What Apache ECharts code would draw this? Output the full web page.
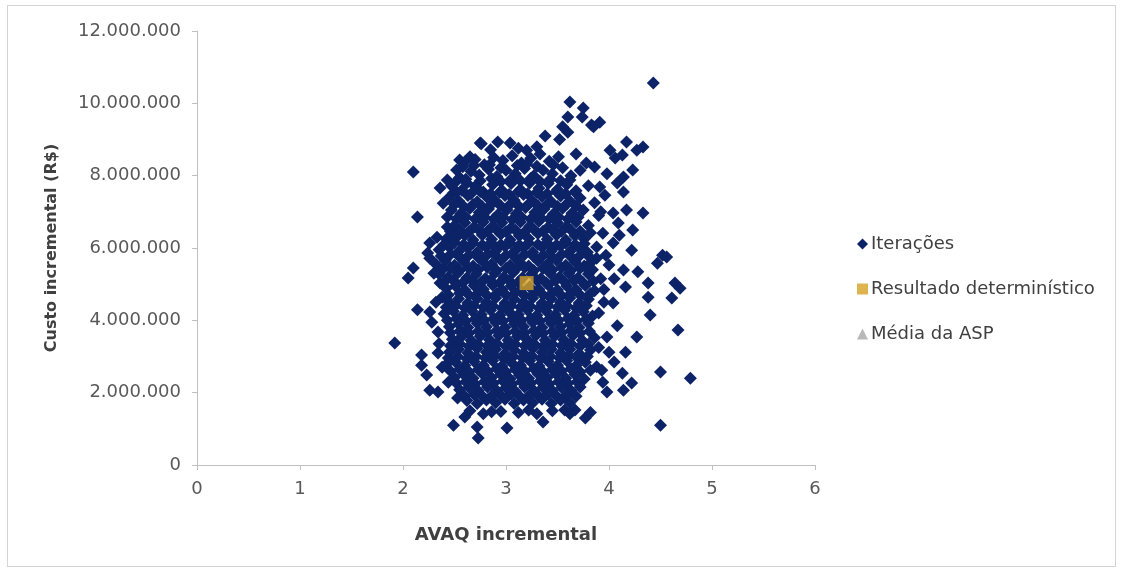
<!DOCTYPE html>
<html>
<head>
<meta charset="utf-8">
<script src="https://cdn.jsdelivr.net/npm/echarts@6/dist/echarts.min.js"></script>
<style>
  html, body { margin: 0; padding: 0; background: #fff; }
  #chart { width: 1122px; height: 570px; }
  #frame { position: absolute; left: 7px; top: 5px; width: 1107px; height: 560px; border: 1px solid #d4d4d4; pointer-events: none; }
</style>
</head>
<body>
<div id="chart"></div>
<div id="frame"></div>
<script>
// Eixos
const xTicks = [0, 1, 2, 3, 4, 5, 6];          // AVAQ incremental
const yTicks = [0, 2, 4, 6, 8, 10, 12];        // custo, em milhões de R$

// Resultado determinístico e média da análise de sensibilidade probabilística [AVAQ, custo (milhões R$)]
const resultadoDeterministico = [[3.2, 5.03]];
const mediaASP = [[3.18, 5.0]];

// Iterações da simulação [AVAQ, custo (milhões R$)] — pontos da periferia da nuvem
const iteracoesExtremos = [
  [4.43,10.56],[3.62,10.04],[3.75,9.87],[3.6,9.62],[3.74,9.62],[3.83,9.4],[3.91,9.48],[3.85,9.35],[3.6,9.2],[3.55,9.35],
  [2.76,8.88],[2.92,8.93],[3.04,8.9],[3.12,8.76],[3.3,8.8],[3.38,9.1],[3.52,9.0],[3.2,8.7],[2.85,8.72],
  [4.17,8.93],[4.33,8.79],[4.27,8.7],[4.01,8.7],[4.06,8.49],[4.13,8.57],[3.86,8.24],[4.23,8.16],[4.14,7.96],[3.91,7.69],
  [4.08,7.8],[4.14,7.55],[3.96,7.46],[4.33,6.97],[4.17,7.05],[4.04,6.97],[4.09,6.69],[4.23,6.5],[3.94,6.41],[4.04,6.14],
  [4.22,5.94],[4.52,5.8],[3.88,6.03],
  [2.1,8.1],[2.14,6.86],[2.75,8.9],[2.55,8.43],[2.65,8.52],[2.52,8.16],[2.43,7.88],[2.36,7.66],[2.49,7.52],[2.62,7.8],
  [2.39,7.24],[2.26,6.14],[2.24,5.86],[2.43,6.58],[2.55,6.86],[2.43,6.86],[2.33,6.3],[2.52,6.3],
  [2.1,5.45],[2.05,5.17],[2.26,5.72],[2.36,5.03],[2.38,4.64],[2.14,4.29],[2.26,4.23],[2.28,3.95],[1.92,3.37],[2.34,3.68],
  [2.18,3.04],[2.34,3.1],[2.18,2.76],[2.23,2.49],[2.26,2.07],[2.34,2.02],[2.44,2.29],[2.53,1.85],[2.49,1.1],[2.6,1.33],
  [2.72,1.05],[2.73,0.75],[3.01,1.02],[3.36,1.19],[2.86,1.47],[3.67,1.52],[3.77,1.3],[3.57,1.52],
  [3.88,5.72],[4.0,5.53],[4.14,5.39],[4.28,5.34],[4.47,5.58],[4.56,5.75],[4.64,5.03],[4.69,4.89],[4.61,4.62],[4.38,5.03],
  [4.16,4.92],[4.38,4.64],[4.04,4.48],[4.4,4.15],[4.67,3.73],[4.27,3.54],[3.98,3.54],[4.16,3.12],[4.0,3.12],[4.5,2.57],
  [4.79,2.4],[4.13,2.54],[4.22,2.27],[4.14,2.07],[3.94,2.29],[3.98,2.02],[4.5,1.1],
  [3.9,4.2],[3.95,4.85],[4.05,5.15],[3.97,5.8],[4.1,6.35],[3.9,3.25],[4.08,3.85],[3.93,2.62],[4.05,2.85],[3.92,7.0],
  [2.3,5.3],[2.32,4.5],[2.35,3.35],[2.38,2.7]
];
// Iterações — núcleo denso da nuvem, faixa a faixa de custo
const iteracoesNucleo = [
  [2.6,8.38],[2.7,8.45],[2.79,8.3],[2.88,8.5],[2.97,8.42],[3.06,8.55],[3.15,8.35],[3.24,8.48],[3.33,8.6],[3.42,8.4],[3.51,8.52],[3.68,8.6],[3.78,8.35],
  [2.58,8.25],[2.69,8.28],[2.84,8.3],[2.95,8.22],[3.11,8.28],[3.2,8.32],[3.3,8.26],[3.46,8.3],
  [2.55,7.95],[2.66,8.12],[2.74,8.02],[2.83,8.18],[2.91,7.98],[3.0,8.15],[3.09,8.05],[3.18,8.2],[3.27,8.0],[3.36,8.15],[3.45,8.05],[3.55,8.22],[3.63,8.0],[3.72,8.15],[3.98,8.05],
  [2.52,7.85],[2.61,7.9],[2.75,7.86],[2.86,7.92],[2.95,7.84],[3.05,7.9],[3.14,7.86],[3.24,7.92],[3.33,7.84],[3.43,7.9],[3.53,7.86],[3.62,7.88],
  [2.47,7.72],[2.57,7.6],[2.7,7.7],[2.78,7.55],[2.87,7.75],[2.96,7.6],[3.05,7.78],[3.14,7.62],[3.23,7.8],[3.32,7.65],[3.41,7.78],[3.5,7.62],[3.59,7.75],[3.68,7.58],[3.8,7.72],
  [2.52,7.55],[2.66,7.5],[2.75,7.56],[2.85,7.5],[2.94,7.54],[3.03,7.48],[3.12,7.56],[3.21,7.5],[3.3,7.54],[3.4,7.5],[3.49,7.56],[3.58,7.5],[3.67,7.54],
  [2.45,7.4],[2.54,7.3],[2.63,7.45],[2.72,7.28],[2.81,7.42],[2.9,7.3],[2.99,7.45],[3.08,7.32],[3.17,7.48],[3.26,7.3],[3.35,7.42],[3.44,7.28],[3.53,7.44],[3.62,7.3],[3.72,7.38],[3.86,7.25],
  [2.5,7.2],[2.59,7.15],[2.68,7.2],[2.77,7.14],[2.86,7.22],[2.95,7.16],[3.04,7.2],[3.13,7.14],[3.22,7.22],[3.31,7.16],[3.4,7.2],[3.5,7.15],[3.59,7.22],[3.68,7.16],
  [2.47,7.05],[2.56,6.95],[2.65,7.1],[2.74,6.98],[2.83,7.08],[2.92,6.92],[3.01,7.06],[3.1,6.95],[3.19,7.12],[3.28,6.98],[3.37,7.08],[3.46,6.94],[3.55,7.1],[3.64,6.96],[3.75,7.05],[3.9,6.9],
  [2.52,6.8],[2.61,6.86],[2.7,6.8],[2.79,6.86],[2.88,6.8],[2.97,6.86],[3.06,6.78],[3.15,6.86],[3.24,6.8],[3.33,6.86],[3.42,6.8],[3.51,6.86],[3.6,6.8],[3.7,6.85],
  [2.5,6.62],[2.6,6.7],[2.69,6.58],[2.78,6.72],[2.87,6.6],[2.96,6.7],[3.05,6.56],[3.14,6.72],[3.23,6.6],[3.32,6.74],[3.41,6.58],[3.5,6.7],[3.59,6.6],[3.68,6.72],[3.8,6.62],
  [2.46,6.46],[2.55,6.5],[2.64,6.45],[2.73,6.52],[2.82,6.46],[2.91,6.5],[3.0,6.45],[3.09,6.5],[3.18,6.44],[3.27,6.52],[3.36,6.46],[3.45,6.5],[3.54,6.46],[3.63,6.5],[3.72,6.46],
  [2.42,6.25],[2.6,6.35],[2.68,6.22],[2.77,6.36],[2.86,6.24],[2.95,6.38],[3.04,6.22],[3.13,6.34],[3.22,6.26],[3.31,6.4],[3.4,6.24],[3.49,6.36],[3.58,6.22],[3.67,6.34],[3.76,6.25],[3.82,6.42],
  [2.4,6.1],[2.5,6.15],[2.59,6.1],[2.68,6.14],[2.77,6.08],[2.86,6.14],[2.95,6.1],[3.04,6.14],[3.13,6.08],[3.22,6.14],[3.31,6.1],[3.4,6.14],[3.49,6.08],[3.58,6.14],[3.67,6.1],[3.76,6.12],
  [2.35,5.95],[2.45,6.02],[2.54,5.9],[2.63,6.0],[2.72,5.88],[2.81,6.02],[2.9,5.92],[2.99,6.04],[3.08,5.9],[3.17,6.0],[3.26,5.88],[3.35,6.02],[3.44,5.92],[3.53,6.05],[3.62,5.9],[3.71,6.0],[3.79,5.88],
  [2.37,5.78],[2.46,5.82],[2.55,5.75],[2.64,5.8],[2.73,5.74],[2.82,5.82],[2.91,5.76],[3.0,5.8],[3.09,5.74],[3.18,5.82],[3.27,5.76],[3.36,5.8],[3.45,5.74],[3.54,5.82],[3.63,5.76],[3.72,5.8],[3.81,5.75],
  [2.32,5.55],[2.41,5.65],[2.5,5.52],[2.59,5.62],[2.68,5.5],[2.77,5.64],[2.86,5.55],[2.95,5.66],[3.04,5.52],[3.13,5.62],[3.22,5.5],[3.31,5.65],[3.4,5.55],[3.49,5.66],[3.58,5.52],[3.67,5.62],[3.76,5.5],[3.83,5.62],
  [2.38,5.4],[2.46,5.45],[2.55,5.38],[2.64,5.44],[2.73,5.4],[2.82,5.46],[2.91,5.38],[3.0,5.44],[3.09,5.4],[3.18,5.46],[3.27,5.38],[3.36,5.44],[3.45,5.4],[3.54,5.46],[3.63,5.38],[3.72,5.44],[3.84,5.4],
  [2.35,5.28],[2.44,5.2],[2.53,5.3],[2.62,5.18],[2.71,5.28],[2.8,5.16],[2.89,5.3],[2.98,5.2],[3.07,5.32],[3.16,5.18],[3.25,5.28],[3.34,5.16],[3.43,5.3],[3.52,5.2],[3.61,5.3],[3.7,5.18],[3.8,5.28],[3.92,5.15],
  [2.4,5.06],[2.49,5.1],[2.58,5.04],[2.67,5.1],[2.76,5.06],[2.85,5.1],[2.94,5.04],[3.03,5.1],[3.12,5.06],[3.3,5.1],[3.39,5.04],[3.48,5.1],[3.57,5.06],[3.66,5.1],[3.75,5.04],[3.85,5.08],
  [2.42,4.88],[2.51,4.95],[2.6,4.84],[2.69,4.96],[2.78,4.86],[2.87,4.98],[2.96,4.85],[3.05,4.95],[3.14,4.84],[3.23,4.92],[3.32,4.86],[3.41,4.98],[3.5,4.84],[3.59,4.95],[3.68,4.85],[3.77,4.96],[3.86,4.82],
  [2.44,4.7],[2.55,4.75],[2.64,4.7],[2.73,4.76],[2.82,4.68],[2.91,4.74],[3.0,4.7],[3.09,4.76],[3.18,4.68],[3.27,4.74],[3.36,4.7],[3.45,4.76],[3.54,4.68],[3.63,4.74],[3.72,4.7],[3.82,4.74],
  [2.45,4.5],[2.54,4.6],[2.63,4.48],[2.72,4.6],[2.81,4.5],[2.9,4.62],[2.99,4.48],[3.08,4.58],[3.17,4.5],[3.26,4.62],[3.35,4.48],[3.44,4.6],[3.53,4.5],[3.62,4.62],[3.71,4.48],[3.8,4.58],[3.95,4.5],
  [2.42,4.36],[2.51,4.4],[2.6,4.34],[2.69,4.4],[2.78,4.36],[2.87,4.4],[2.96,4.34],[3.05,4.4],[3.14,4.36],[3.23,4.4],[3.32,4.34],[3.41,4.4],[3.5,4.36],[3.59,4.4],[3.68,4.34],[3.78,4.4],
  [2.4,4.18],[2.49,4.25],[2.58,4.14],[2.67,4.26],[2.76,4.16],[2.85,4.28],[2.94,4.14],[3.03,4.24],[3.12,4.16],[3.21,4.28],[3.3,4.14],[3.39,4.26],[3.48,4.16],[3.57,4.28],[3.66,4.14],[3.75,4.24],[3.84,4.12],
  [2.43,4.0],[2.52,4.05],[2.61,3.98],[2.7,4.04],[2.79,4.0],[2.88,4.05],[2.97,3.98],[3.06,4.04],[3.15,4.0],[3.24,4.05],[3.33,3.98],[3.42,4.04],[3.51,4.0],[3.6,4.05],[3.69,3.98],[3.78,4.04],
  [2.45,3.82],[2.54,3.9],[2.63,3.8],[2.72,3.92],[2.81,3.82],[2.9,3.94],[2.99,3.8],[3.08,3.9],[3.17,3.82],[3.26,3.94],[3.35,3.8],[3.44,3.92],[3.53,3.82],[3.62,3.9],[3.71,3.8],[3.8,3.92],
  [2.46,3.66],[2.55,3.7],[2.64,3.64],[2.73,3.7],[2.82,3.66],[2.91,3.72],[3.0,3.64],[3.09,3.7],[3.18,3.66],[3.27,3.72],[3.36,3.64],[3.45,3.7],[3.54,3.66],[3.63,3.72],[3.72,3.64],[3.81,3.7],
  [2.48,3.48],[2.57,3.55],[2.66,3.45],[2.75,3.56],[2.84,3.46],[2.93,3.58],[3.02,3.45],[3.11,3.55],[3.2,3.48],[3.29,3.58],[3.38,3.45],[3.47,3.56],[3.56,3.46],[3.65,3.58],[3.74,3.45],[3.86,3.52],
  [2.46,3.3],[2.55,3.35],[2.64,3.28],[2.73,3.34],[2.82,3.3],[2.91,3.36],[3.0,3.28],[3.09,3.34],[3.18,3.3],[3.27,3.36],[3.36,3.28],[3.45,3.34],[3.54,3.3],[3.63,3.36],[3.72,3.28],[3.8,3.34],
  [2.45,3.12],[2.54,3.2],[2.63,3.1],[2.72,3.22],[2.81,3.12],[2.9,3.2],[2.99,3.08],[3.08,3.18],[3.17,3.1],[3.26,3.22],[3.35,3.12],[3.44,3.2],[3.53,3.1],[3.62,3.2],[3.71,3.08],[3.82,3.18],
  [2.44,2.96],[2.53,3.0],[2.62,2.94],[2.71,3.0],[2.8,2.96],[2.89,3.02],[2.98,2.94],[3.07,3.0],[3.16,2.96],[3.25,3.02],[3.34,2.94],[3.43,3.0],[3.52,2.96],[3.61,3.02],[3.7,2.94],[3.79,3.0],
  [2.42,2.78],[2.51,2.85],[2.6,2.75],[2.69,2.86],[2.78,2.76],[2.87,2.88],[2.96,2.74],[3.05,2.84],[3.14,2.76],[3.23,2.88],[3.32,2.74],[3.41,2.86],[3.5,2.76],[3.59,2.88],[3.68,2.75],[3.77,2.84],[3.88,2.72],
  [2.46,2.6],[2.55,2.65],[2.64,2.58],[2.73,2.64],[2.82,2.6],[2.91,2.66],[3.0,2.58],[3.09,2.64],[3.18,2.6],[3.27,2.66],[3.36,2.58],[3.45,2.64],[3.54,2.6],[3.63,2.66],[3.72,2.58],[3.82,2.62],
  [2.5,2.42],[2.59,2.5],[2.68,2.4],[2.77,2.52],[2.86,2.42],[2.95,2.5],[3.04,2.38],[3.13,2.48],[3.22,2.4],[3.31,2.52],[3.4,2.42],[3.49,2.5],[3.58,2.4],[3.67,2.5],[3.76,2.38],
  [2.52,2.26],[2.61,2.3],[2.7,2.24],[2.79,2.3],[2.88,2.26],[2.97,2.32],[3.06,2.24],[3.15,2.3],[3.24,2.26],[3.33,2.32],[3.42,2.24],[3.51,2.3],[3.6,2.26],[3.69,2.3],
  [2.55,2.08],[2.64,2.15],[2.73,2.05],[2.82,2.16],[2.91,2.06],[3.0,2.14],[3.09,2.04],[3.18,2.16],[3.27,2.06],[3.36,2.15],[3.45,2.05],[3.54,2.14],[3.63,2.06],[3.72,2.16],
  [2.6,1.9],[2.69,1.95],[2.78,1.88],[2.87,1.94],[2.96,1.9],[3.05,1.96],[3.14,1.88],[3.23,1.94],[3.32,1.9],[3.41,1.96],[3.5,1.88],[3.59,1.94],[3.68,1.9],
  [2.62,1.78],[2.72,1.7],[2.81,1.8],[2.9,1.72],[2.99,1.82],[3.08,1.7],[3.17,1.8],[3.26,1.72],[3.35,1.82],[3.44,1.7],[3.53,1.8],[3.62,1.72],
  [2.65,1.5],[2.78,1.42],[2.95,1.48],[3.12,1.45],[3.22,1.52],[3.3,1.42],[3.45,1.5],[3.62,1.42],[3.82,1.45]
];
const iteracoes = iteracoesExtremos.concat(iteracoesNucleo);

// 12 -> "12.000.000"
function reais(milhoes) {
  return String(Math.round(milhoes * 1e6)).replace(/\B(?=(\d{3})+(?!\d))/g, '.');
}

const FONT = 'DejaVu Sans';
const chart = echarts.init(document.getElementById('chart'));
chart.setOption({
  animation: false,
  backgroundColor: '#fff',
  grid: { left: 197, right: 307, top: 31, bottom: 105 },
  xAxis: {
    type: 'value', min: xTicks[0], max: xTicks[xTicks.length - 1], interval: 1,
    name: 'AVAQ incremental', nameLocation: 'middle', nameGap: 61,
    nameTextStyle: { fontFamily: FONT, fontSize: 18, fontWeight: 'bold', color: '#404040' },
    axisLine: { lineStyle: { color: '#c0c0c0', width: 1 } },
    axisTick: { show: true, length: 5, lineStyle: { color: '#c0c0c0' } },
    axisLabel: { fontFamily: FONT, fontSize: 18, color: '#595959', margin: 15 },
    splitLine: { show: false }
  },
  yAxis: {
    type: 'value', min: yTicks[0], max: yTicks[yTicks.length - 1], interval: 2,
    name: 'Custo incremental (R$)', nameLocation: 'middle', nameGap: 137, nameRotate: 90,
    nameTextStyle: { fontFamily: FONT, fontSize: 16, fontWeight: 'bold', color: '#404040' },
    axisLine: { show: true, lineStyle: { color: '#c0c0c0', width: 1 } },
    axisTick: { show: true, length: 5, lineStyle: { color: '#c0c0c0' } },
    axisLabel: { fontFamily: FONT, fontSize: 18, color: '#595959', margin: 16, formatter: v => reais(v) },
    splitLine: { show: false }
  },
  legend: {
    orient: 'vertical', left: 852, top: 230, itemGap: 27,
    itemWidth: 11, itemHeight: 11,
    textStyle: { fontFamily: FONT, fontSize: 18, color: '#404040', padding: [0, 0, 0, -2] },
    data: [
      { name: 'Iterações', icon: 'diamond' },
      { name: 'Resultado determinístico', icon: 'rect' },
      { name: 'Média da ASP', icon: 'triangle' }
    ]
  },
  series: [
    { name: 'Iterações', type: 'scatter', data: iteracoes, symbol: 'diamond', symbolSize: 13,
      itemStyle: { color: '#0d2368', opacity: 1 }, z: 2 },
    { name: 'Média da ASP', type: 'scatter', data: mediaASP, symbol: 'triangle', symbolSize: 10,
      itemStyle: { color: '#a6a6a6' }, z: 1 },
    { name: 'Resultado determinístico', type: 'scatter', data: resultadoDeterministico, symbol: 'rect', symbolSize: 14,
      itemStyle: { color: '#d6a126' }, z: 4 }
  ]
});
</script>
</body>
</html>
